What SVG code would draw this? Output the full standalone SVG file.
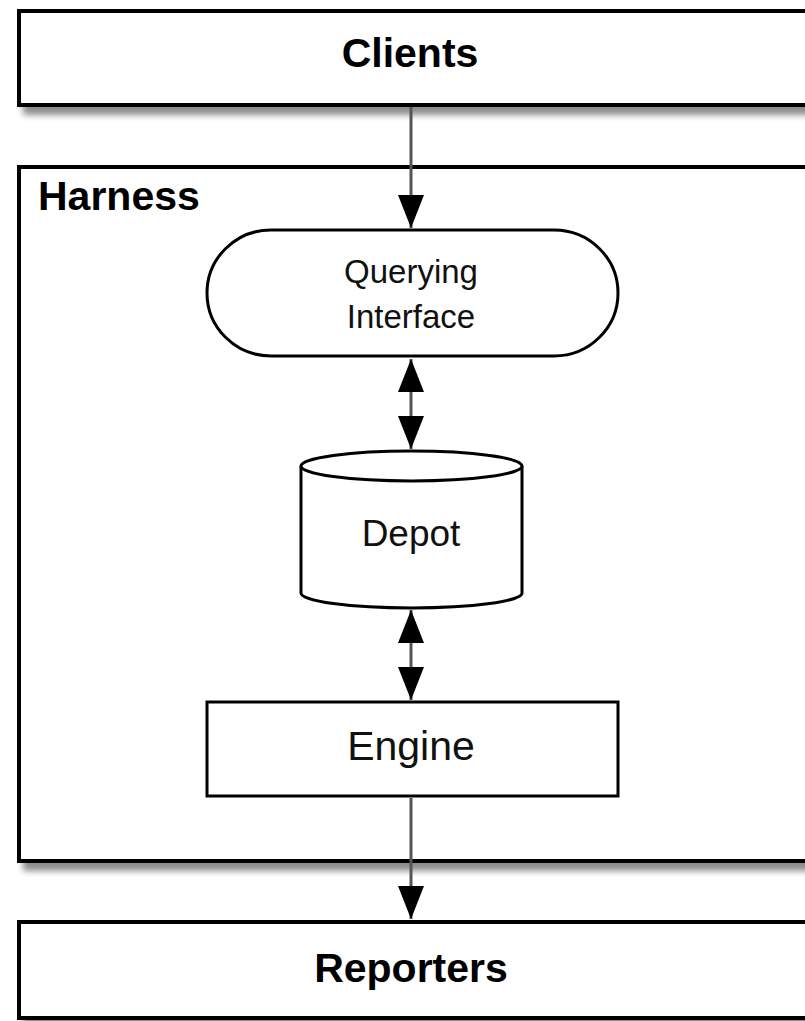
<svg xmlns="http://www.w3.org/2000/svg" width="805" height="1021" viewBox="0 0 805 1021">
  <defs>
    <filter id="shadow" x="-5%" y="-5%" width="115%" height="130%">
      <feGaussianBlur in="SourceAlpha" stdDeviation="3"/>
      <feOffset dx="6" dy="8" result="blur"/>
      <feComponentTransfer><feFuncA type="linear" slope="0.45"/></feComponentTransfer>
      <feMerge><feMergeNode/><feMergeNode in="SourceGraphic"/></feMerge>
    </filter>
    <marker id="head" viewBox="0 0 33 26" refX="33" refY="13" markerWidth="33" markerHeight="26" markerUnits="userSpaceOnUse" orient="auto">
      <path d="M0,0 L33,13 L0,26 Z" fill="#000"/>
    </marker>
    <marker id="tail" viewBox="0 0 33 26" refX="0" refY="13" markerWidth="33" markerHeight="26" markerUnits="userSpaceOnUse" orient="auto">
      <path d="M33,0 L0,13 L33,26 Z" fill="#000"/>
    </marker>
  </defs>
  <style>
    .outer { fill: #fff; stroke: #000; stroke-width: 4; }
    .inner { fill: #fff; stroke: #000; stroke-width: 3; }
    .title { font-family: "Liberation Sans", Arial, sans-serif; font-weight: bold; font-size: 41px; fill: #000; }
    .label { font-family: "Liberation Sans", Arial, sans-serif; fill: #111; text-anchor: middle; }
    .wire { fill: none; stroke: #555; stroke-width: 3; }
  </style>
  <rect width="805" height="1021" fill="#fff"/>

  <g id="clients">
    <rect class="outer" x="19" y="11" width="790" height="94" filter="url(#shadow)"/>
    <text class="title" x="410" y="67" text-anchor="middle">Clients</text>
  </g>

  <g id="harness">
    <rect class="outer" x="19" y="167" width="790" height="694" filter="url(#shadow)"/>
    <text class="title" x="38" y="210">Harness</text>
  </g>

  <g id="reporters">
    <rect class="outer" x="19" y="922" width="790" height="96" filter="url(#shadow)"/>
    <text class="title" x="411" y="982" text-anchor="middle" font-size="42">Reporters</text>
  </g>

  <g id="querying-interface">
    <rect class="inner" x="207" y="230" width="411" height="126" rx="64" ry="63"/>
    <text class="label" x="411" y="283" font-size="33">Querying</text>
    <text class="label" x="411" y="328" font-size="33">Interface</text>
  </g>

  <g id="depot">
    <path class="inner" d="M301,466 L301,593 A110.5,15 0 0 0 522,593 L522,466 A110.5,15 0 0 0 301,466 Z"/>
    <path class="inner" fill="none" d="M301,466 A110.5,15 0 0 0 522,466"/>
    <text class="label" x="411" y="546" font-size="37">Depot</text>
  </g>

  <g id="engine">
    <rect class="inner" x="207" y="702" width="411" height="94"/>
    <text class="label" x="411" y="760" font-size="41">Engine</text>
  </g>

  <g id="connectors">
    <line class="wire" x1="411" y1="107" x2="411" y2="228" marker-end="url(#head)"/>
    <line class="wire" x1="411" y1="359" x2="411" y2="449" marker-start="url(#tail)" marker-end="url(#head)"/>
    <line class="wire" x1="411" y1="610" x2="411" y2="700" marker-start="url(#tail)" marker-end="url(#head)"/>
    <line class="wire" x1="411" y1="798" x2="411" y2="919" marker-end="url(#head)"/>
  </g>
</svg>
